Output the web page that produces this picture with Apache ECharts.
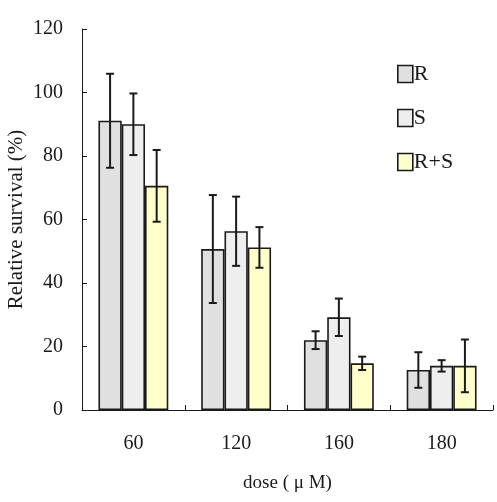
<!DOCTYPE html>
<html><head><meta charset="utf-8">
<script src="https://cdn.jsdelivr.net/npm/echarts@6/dist/echarts.min.js"></script>
<style>html,body{margin:0;padding:0;background:#fff}#c{width:497px;height:502px}</style>
</head><body><div id="c"></div>
<script>
var categories = ['60', '120', '160', '180'];
var seriesNames = ['R', 'S', 'R+S'];
var rMean = [91.1, 50.7, 22.0, 12.6];
var rErr = [14.8, 17.0, 2.8, 5.6];
var sMean = [90.0, 56.3, 29.2, 13.9];
var sErr = [9.7, 10.9, 5.9, 1.8];
var rsMean = [70.6, 51.2, 14.7, 13.9];
var rsErr = [11.3, 6.4, 2.1, 8.3];
var yTicks = [0, 20, 40, 60, 80, 100, 120];

var colors = ['#e0e0e0', '#eeeeee', '#ffffcc'];
var means = [rMean, sMean, rsMean];
var errs = [rErr, sErr, rsErr];
var gapRatio = 0.32;
var font = '"Liberation Serif", "DejaVu Serif", serif';

var chart = echarts.init(document.getElementById('c'));
var series = [];
means.forEach(function (m, i) {
  series.push({
    name: seriesNames[i], type: 'bar', data: m,
    barGap: '0%', barCategoryGap: '32%',
    itemStyle: { color: colors[i], borderColor: '#1a1a1a', borderWidth: 1.6 },
    z: 2
  });
});
means.forEach(function (m, i) {
  var data = categories.map(function (c, k) { return [k, m[k] - errs[i][k], m[k] + errs[i][k]]; });
  series.push({
    type: 'custom', data: data, z: 5, silent: true,
    renderItem: function (params, api) {
      var band = api.size([1, 0])[0];
      var bw = band * (1 - gapRatio) / 3;
      var off = (i - 1) * bw;
      var lo = api.coord([api.value(0), api.value(1)]);
      var hi = api.coord([api.value(0), api.value(2)]);
      var x = lo[0] + off;
      var cap = 4;
      var st = { stroke: '#1a1a1a', lineWidth: 2 };
      return { type: 'group', children: [
        { type: 'line', shape: { x1: x, y1: lo[1], x2: x, y2: hi[1] }, style: st },
        { type: 'line', shape: { x1: x - cap, y1: lo[1], x2: x + cap, y2: lo[1] }, style: st },
        { type: 'line', shape: { x1: x - cap, y1: hi[1], x2: x + cap, y2: hi[1] }, style: st }
      ]};
    }
  });
});

chart.setOption({
  animation: false,
  backgroundColor: '#fff',
  grid: { left: 82, right: 4, top: 29, bottom: 92, containLabel: false, outerBoundsMode: 'none' },
  legend: {
    data: seriesNames, orient: 'vertical', left: 392, top: 58,
    itemWidth: 15, itemHeight: 17, itemGap: 22, icon: 'rect',
    itemStyle: { borderColor: '#1a1a1a', borderWidth: 1.6 },
    textStyle: { fontFamily: font, fontSize: 22, color: '#1a1a1a', padding: [0, 0, 0, -4] }
  },
  xAxis: {
    type: 'category', data: categories,
    name: 'dose ( μ M)', nameLocation: 'middle', nameGap: 64, nameMoveOverlap: false,
    nameTextStyle: { fontFamily: font, fontSize: 19, color: '#1a1a1a' },
    axisLine: { lineStyle: { color: '#1a1a1a', width: 1 } },
    axisTick: { show: true, inside: true, length: 5, lineStyle: { color: '#1a1a1a' } },
    axisLabel: { fontFamily: font, fontSize: 20, color: '#1a1a1a', margin: 24 }
  },
  yAxis: {
    type: 'value', min: yTicks[0], max: yTicks[yTicks.length - 1], interval: yTicks[1] - yTicks[0],
    name: 'Relative survival (%)', nameLocation: 'middle', nameGap: 55, nameRotate: 90, nameMoveOverlap: false,
    nameTextStyle: { fontFamily: font, fontSize: 21, color: '#1a1a1a' },
    axisLine: { show: true, lineStyle: { color: '#1a1a1a', width: 1 } },
    axisTick: { show: true, inside: true, length: 5, lineStyle: { color: '#1a1a1a' } },
    splitLine: { show: false },
    axisLabel: { fontFamily: font, fontSize: 20, color: '#1a1a1a', margin: 19 }
  },
  series: series
});
</script></body></html>
